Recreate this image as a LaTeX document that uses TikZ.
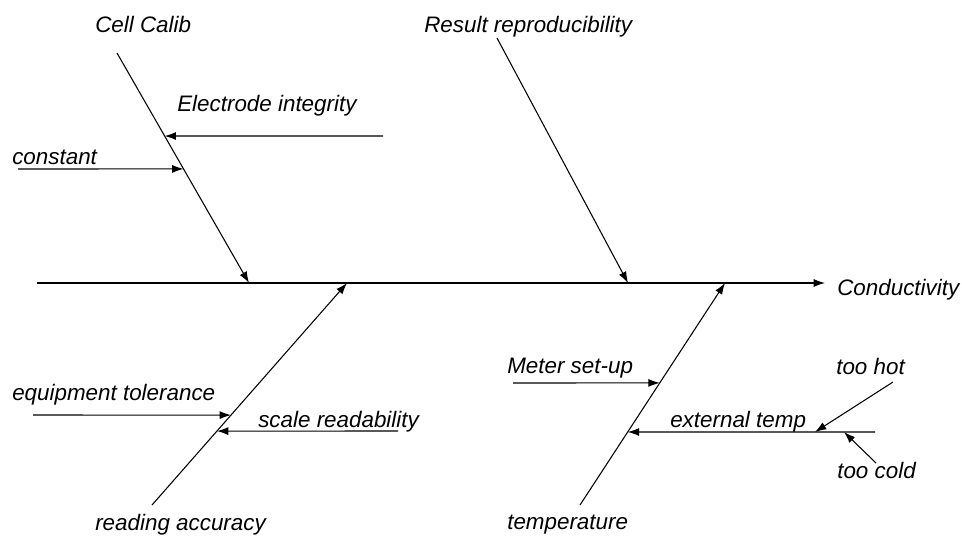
\documentclass[tikz,border=0pt]{standalone}
\usepackage{fontspec}
\setmainfont{Liberation Sans}
\usetikzlibrary{calc,arrows.meta}
\tikzset{
  lbl/.style={anchor=base west, inner sep=0pt, font=\fontsize{16.8}{20}\selectfont\itshape},
  bone/.style={draw, line width=0.8pt, -{Latex[length=8.5pt,width=6pt]}}
}
\begin{document}
\begin{tikzpicture}[x=0.75pt,y=-0.75pt]
\useasboundingbox (0,0) rectangle (962,536);

% spine
\coordinate (tail) at (37,283);
\coordinate (head) at (825,283);
\node[lbl] (cond) at (837,295) {Conductivity};
\path[bone] (tail) -- (head);

% main bones
\coordinate (cctop) at (117,53);
\coordinate (cc) at (249,283);
\coordinate (rrtop) at (497,38);
\coordinate (rr) at (628,283);
\coordinate (rabot) at (152,505);
\coordinate (ra) at (347,283);
\coordinate (tpbot) at (580,505);
\coordinate (tp) at (725,283);
\node[lbl] (cell) at (95,32) {Cell Calib};
\node[lbl] (result) at (424,32) {Result reproducibility};
\node[lbl] (reading) at (95,530) {reading accuracy};
\node[lbl] (temp) at (507,529) {temperature};
\path[bone] (cctop) -- (cc);
\path[bone] (rrtop) -- (rr);
\path[bone] (rabot) -- (ra);
\path[bone] (tpbot) -- (tp);

% causes
\coordinate (ei) at (383,136);
\coordinate (ei1) at ($(cctop)!0.361!(cc)$);
\coordinate (co) at (18,169);
\coordinate (co1) at ($(cctop)!0.504!(cc)$);
\coordinate (eq) at (33,415);
\coordinate (eq1) at ($(rabot)!0.405!(ra)$);
\coordinate (sr) at (398,431);
\coordinate (sr1) at ($(rabot)!0.333!(ra)$);
\coordinate (ms) at (513,383);
\coordinate (ms1) at ($(tpbot)!0.55!(tp)$);
\coordinate (et) at (875,432);
\coordinate (et1) at ($(tpbot)!0.329!(tp)$);
\node[lbl] (electrode) at (177,111) {Electrode integrity};
\node[lbl] (constant) at (12,164) {constant};
\node[lbl] (equip) at (12,400) {equipment tolerance};
\node[lbl] (scale) at (258,427) {scale readability};
\node[lbl] (meter) at (507,373) {Meter set-up};
\node[lbl] (external) at (670,427) {external temp};
\path[bone] (ei) -- (ei1);
\path[bone] (co) -- (co1);
\path[bone] (eq) -- (eq1);
\path[bone] (sr) -- (sr1);
\path[bone] (ms) -- (ms1);
\path[bone] (et) -- (et1);

% sub-causes
\coordinate (hot) at (893,382);
\coordinate (hot1) at (815,432);
\coordinate (cold) at (876,463);
\coordinate (cold1) at (844,432);
\node[lbl] (toohot) at (836,374) {too hot};
\node[lbl] (toocold) at (837,478) {too cold};
\path[bone] (hot) -- (hot1);
\path[bone] (cold) -- (cold1);
\end{tikzpicture}
\end{document}
